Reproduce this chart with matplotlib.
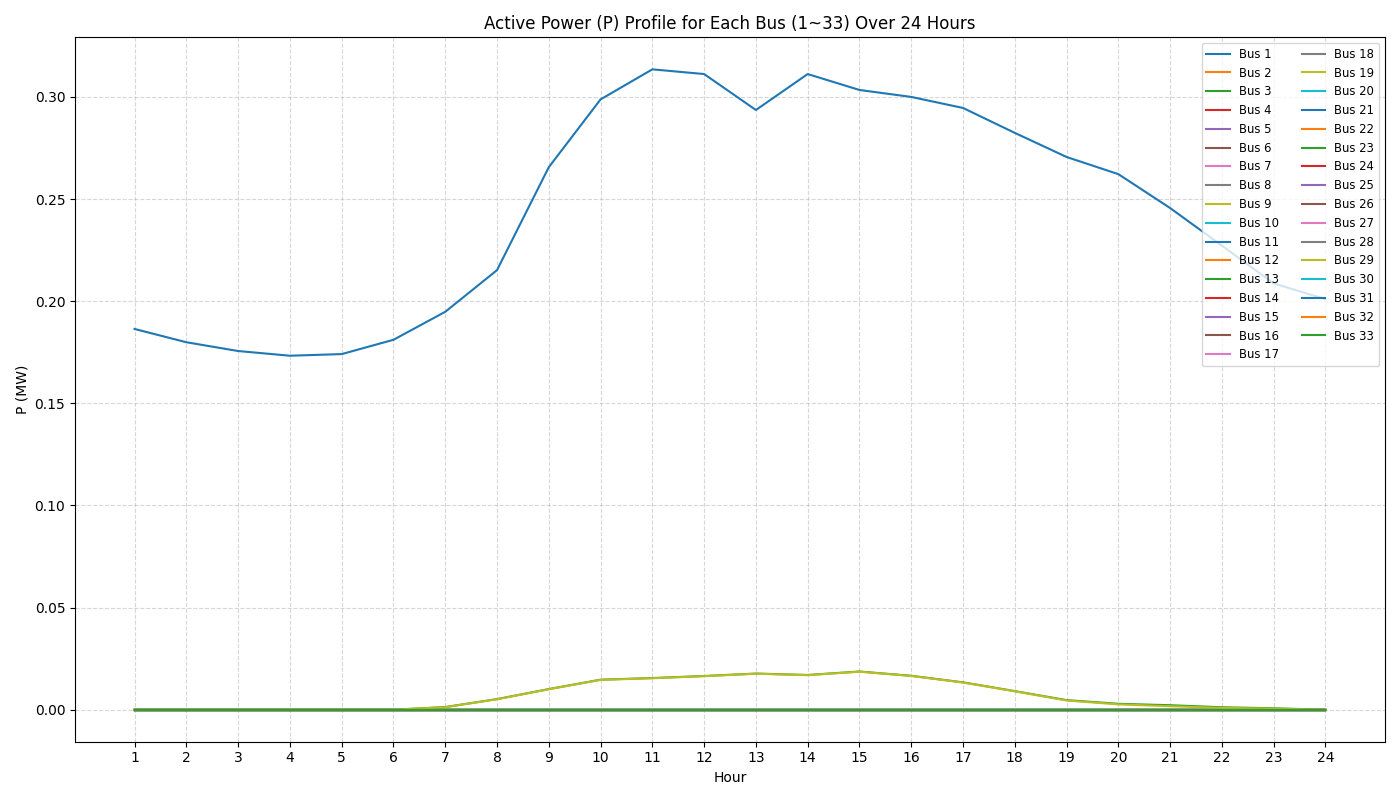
import numpy as np
import matplotlib.pyplot as plt

hours = list(range(1, 25))
n_bus = 33

# Bus 1 (substation) active power, MW
bus1_p = [0.1864, 0.1799, 0.1756, 0.1733, 0.1741, 0.1811, 0.1948, 0.2152,
          0.2656, 0.2988, 0.3135, 0.3112, 0.2936, 0.3112, 0.3034, 0.3000,
          0.2946, 0.2824, 0.2706, 0.2622, 0.2456, 0.2272, 0.2087, 0.2010]

# buses with a small daytime profile
bus13_p = [0.0, 0.0, 0.0, 0.0, 0.0, 0.0, 0.0013, 0.0052,
           0.0101, 0.0147, 0.0155, 0.0165, 0.0177, 0.0170, 0.0187, 0.0166,
           0.0134, 0.0091, 0.0047, 0.0029, 0.0022, 0.0012, 0.0007, 0.0]
bus29_p = [0.0, 0.0, 0.0, 0.0, 0.0, 0.0, 0.0012, 0.0051,
           0.0100, 0.0146, 0.0154, 0.0164, 0.0176, 0.0169, 0.0186, 0.0165,
           0.0133, 0.0090, 0.0045, 0.0026, 0.0017, 0.0009, 0.0005, 0.0]

P = np.zeros((n_bus, len(hours)))
P[0] = bus1_p
P[12] = bus13_p
P[28] = bus29_p

fig, ax = plt.subplots(figsize=(14, 8), dpi=100)
for i in range(n_bus):
    ax.plot(hours, P[i], label=f"Bus {i + 1}")

ax.set_title("Active Power (P) Profile for Each Bus (1~33) Over 24 Hours")
ax.set_xlabel("Hour")
ax.set_ylabel("P (MW)")
ax.set_xticks(hours)
ax.grid(True, linestyle="--", alpha=0.5)
ax.legend(loc="upper right", ncol=2, fontsize="small")
plt.tight_layout()
plt.savefig("out.png")
